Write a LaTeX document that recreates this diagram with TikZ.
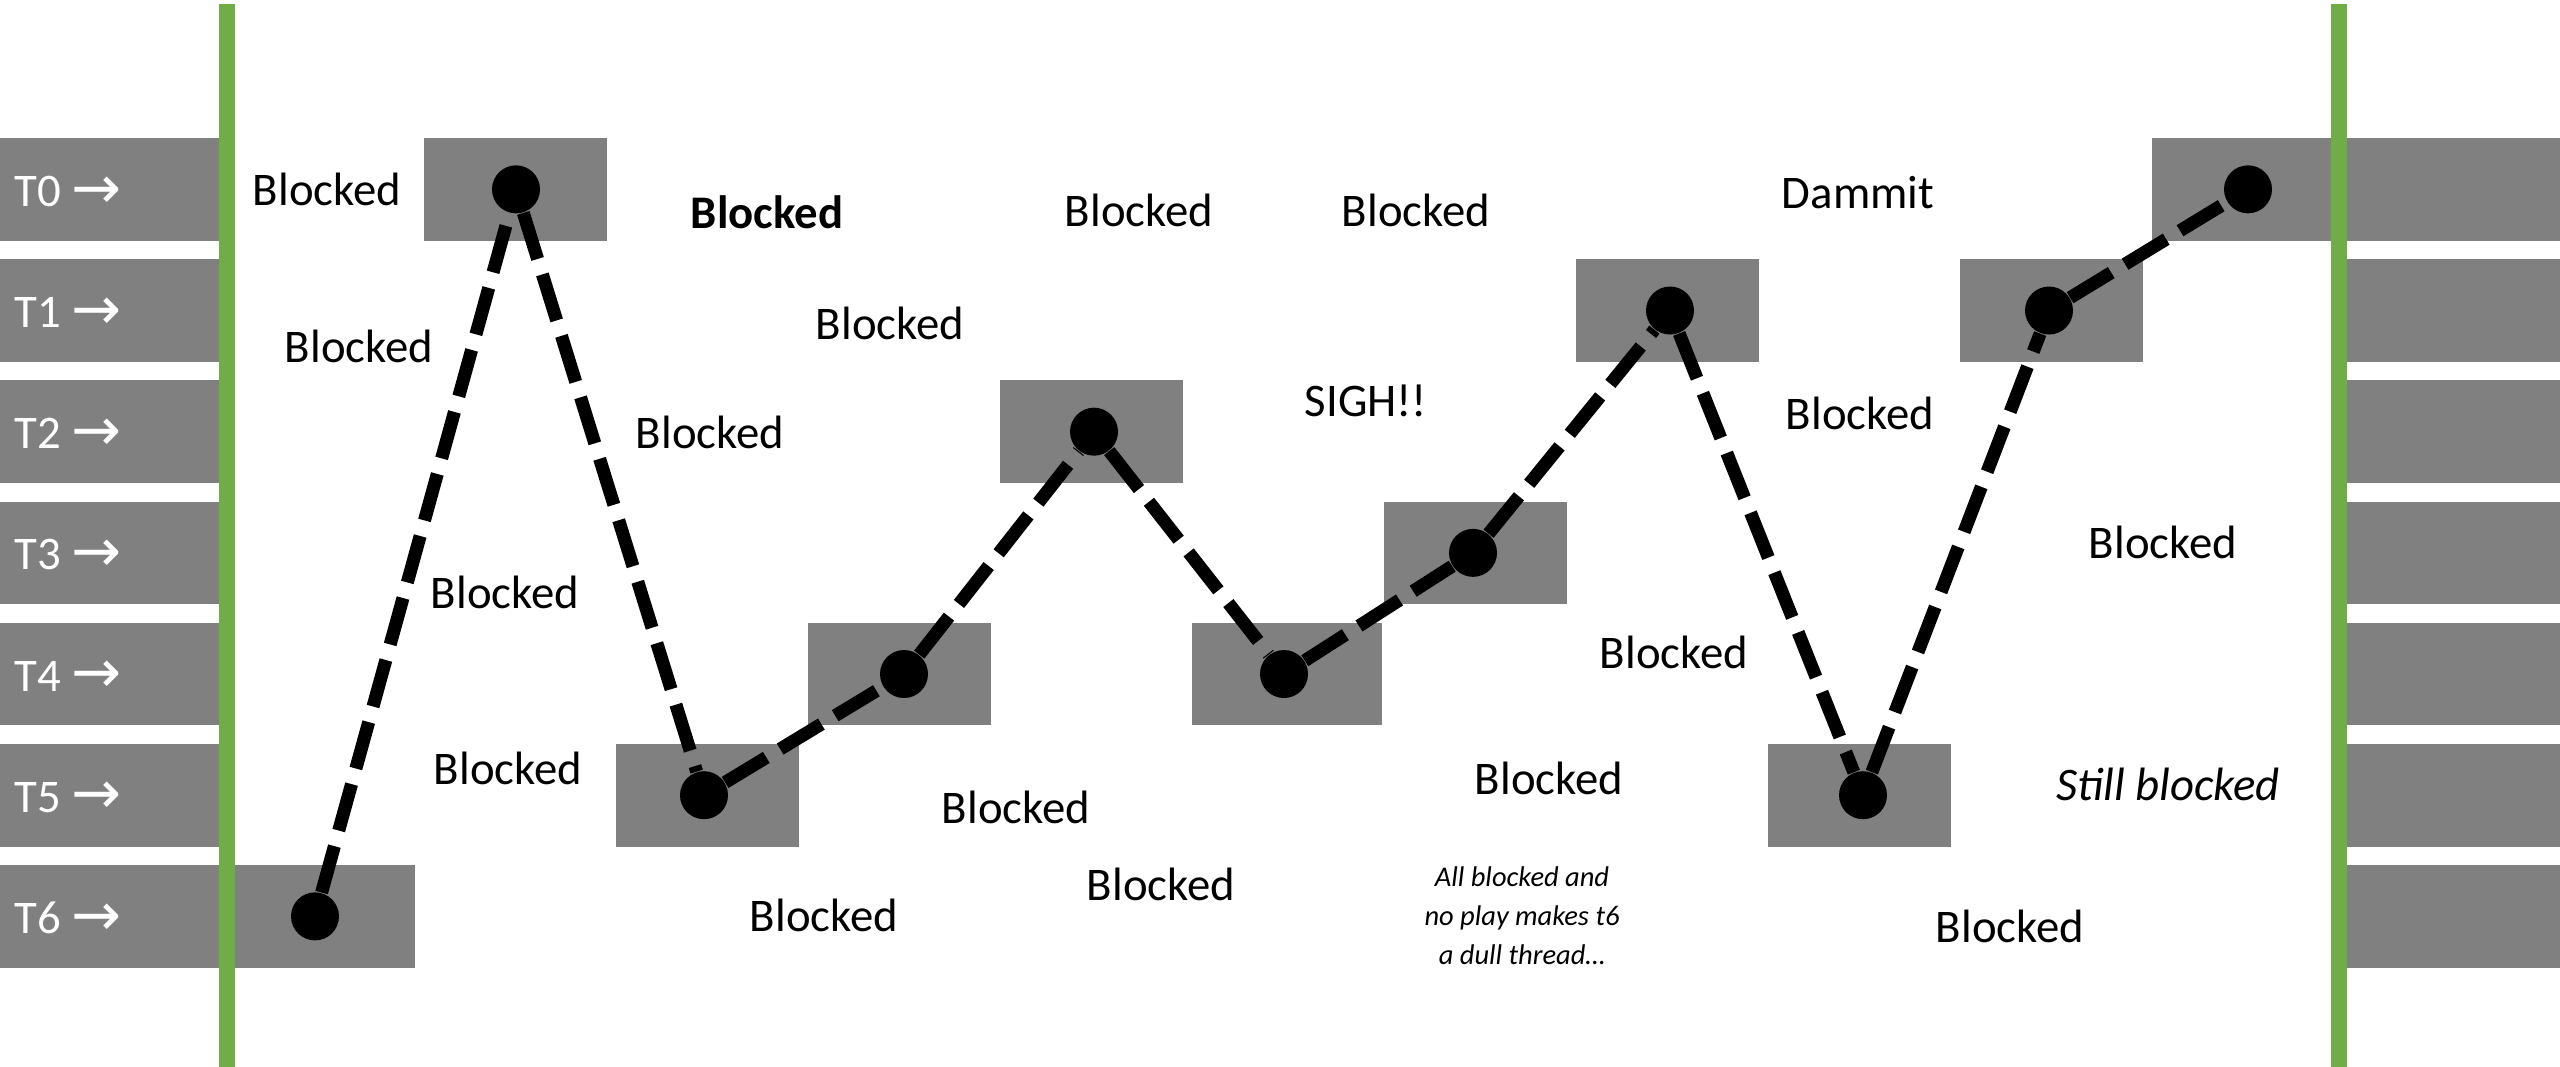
\documentclass[tikz,border=0pt]{standalone}
\usepackage{fontspec}
\setmainfont{Carlito}
\newfontfamily\symfont{DejaVu Sans}
\definecolor{boxgrey}{RGB}{128,128,128}
\definecolor{bargreen}{RGB}{112,173,71}
\begin{document}
\begin{tikzpicture}[x=0.01cm,y=-0.01cm,
  evbox/.style={fill=boxgrey,draw=none,minimum width=183*0.01cm,minimum height=102.7*0.01cm,inner sep=0pt},
  evdot/.style={circle,fill=black,draw=none,minimum size=48*0.01cm,inner sep=0pt},
  path/.style={line width=3.7pt,dash pattern=on 13.7pt off 4.6pt,black},
  word/.style={anchor=base,inner sep=0pt,font=\fontsize{13.3}{16}\selectfont},
  rowlabel/.style={anchor=base west,inner sep=0pt,text=white,font=\fontsize{13.3}{16}\selectfont},
  note/.style={align=center,inner sep=0pt,font=\fontsize{8.1}{11.1}\selectfont\itshape}
]
\useasboundingbox (0,0) rectangle (2560,1067);
% row label boxes
\foreach \i in {0,...,6}{
  \pgfmathsetmacro{\top}{138+121.17*\i}
  \fill[boxgrey] (0,\top) rectangle (219,\top+102.7);
  \fill[boxgrey] (2347,\top) rectangle (2560,\top+102.7);
  \node[rowlabel] (lab\i) at (14,\top+51.35+17) {T\i\ {\symfont\fontsize{17}{17}\selectfont\raisebox{-0.5pt}{→}}};
}
% event boxes
\foreach \k/\r/\w [count=\n] in {0/6/183,1/0/183,2/5/183,3/4/183,4/2/183,5/4/190,6/3/183,7/1/183,8/5/183,9/1/183,10/0/183}{
  \pgfmathsetmacro{\cx}{232+192*\k+\w/2}
  \pgfmathsetmacro{\cy}{138+121.17*\r+51.35}
  \node[evbox,minimum width=\w*0.01cm] (b\n) at (\cx,\cy) {};
}
% green bars
\fill[bargreen] (219,4) rectangle (235,1067);
\fill[bargreen] (2331,4) rectangle (2347,1067);
% dots
\foreach \x [count=\n] in {315,516,704,904,1094,1284,1473,1670,1863,2049,2248}{
  \node[evdot] (d\n) at (\x,0 |- b\n.center) {};
}
% dashed connectors
\foreach \a/\b in {1/2,2/3,3/4,4/5,5/6,6/7,7/8,8/9,9/10,10/11}{
  \draw[path] (d\a) -- (d\b);
}
% texts
\node[word] (t1) at (327,206) {Blocked};
\node[word] (t2) at (359,363) {Blocked};
\node[word,font=\fontsize{13.3}{16}\selectfont\bfseries] (t3) at (767,229) {Blocked};
\node[word] (t4) at (890,340) {Blocked};
\node[word] (t5) at (710,449) {Blocked};
\node[word] (t6) at (505,608) {Blocked};
\node[word] (t7) at (508,784) {Blocked};
\node[word] (t8) at (1016,823) {Blocked};
\node[word] (t9) at (824,931) {Blocked};
\node[word] (t10) at (1161,900) {Blocked};
\node[word] (t11) at (1139,227) {Blocked};
\node[word] (t12) at (1416,227) {Blocked};
\node[word] (t13) at (1858,209) {Dammit};
\node[word] (t14) at (1366,417) {SIGH!!};
\node[word] (t15) at (1860,430) {Blocked};
\node[word] (t16) at (1674,668) {Blocked};
\node[word] (t17) at (1549,794) {Blocked};
\node[word] (t18) at (2163,559) {Blocked};
\node[word,font=\fontsize{13.3}{16}\selectfont\itshape] (t19) at (2168,800) {Still blocked};
\node[word] (t20) at (2010,942) {Blocked};
\node[note] (t21) at (1522,916) {All blocked and\\no play makes t6\\a dull thread…};
\end{tikzpicture}
\end{document}
